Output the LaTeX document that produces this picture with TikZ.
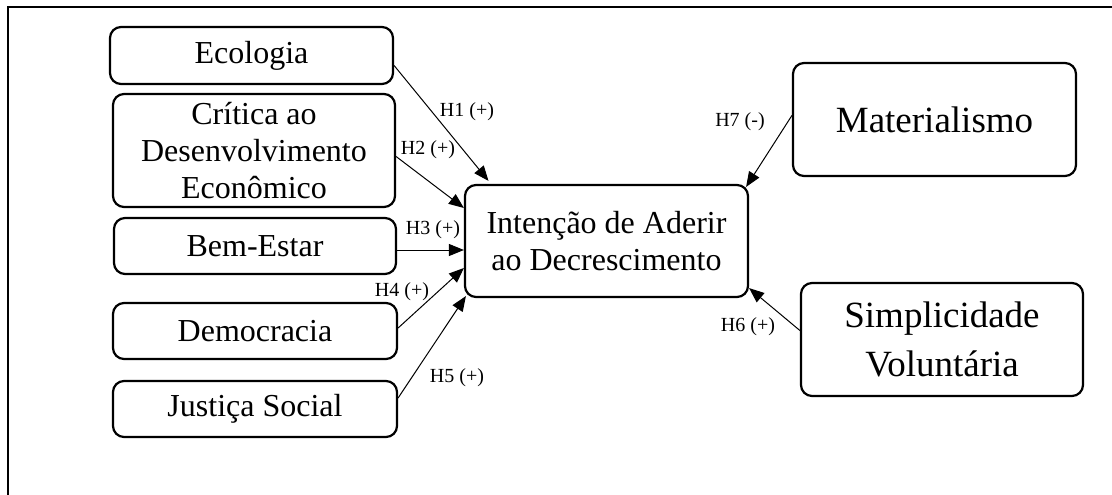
\documentclass[tikz,border=0pt]{standalone}
\usepackage{fontspec}
\setmainfont{Liberation Serif}
\usetikzlibrary{arrows.meta,calc}
\begin{document}
\begin{tikzpicture}[x=1pt,y=-1pt,
  box/.style={draw,line width=2.2pt,rounded corners=11pt,align=center,inner sep=0pt,
    font=\fontsize{32}{37}\selectfont},
  bigbox/.style={box,font=\fontsize{37}{49}\selectfont},
  link/.style={line width=1pt,-{Triangle[length=15pt,width=12pt]}},
  hyp/.style={font=\fontsize{20}{22}\selectfont,inner sep=0pt}]
\useasboundingbox (0,0) rectangle (1112,495);

% partial frame (top and left edges)
\draw[line width=2.6pt] (1112,7) -- (8,7) -- (8,495);

% antecedents
\node[box,minimum width=283pt,minimum height=57pt] (ecol) at (251.5,55.5) {Ecologia};
\node[box,minimum width=282pt,minimum height=113pt] (crit) at (254,150.5)
  {Crítica ao\\Desenvolvimento\\Econômico};
\node[box,minimum width=282pt,minimum height=56pt] (bem) at (255,246) {Bem-Estar};
\node[box,minimum width=284pt,minimum height=56pt] (demo) at (255,331) {Democracia};
\node[box,minimum width=284pt,minimum height=56pt] (just) at (255,409) {Justiça Social};

% outcome
\node[box,minimum width=283pt,minimum height=112pt] (cent) at (606.5,241)
  {Intenção de Aderir\\ao Decrescimento};

% right-hand constructs
\node[bigbox,minimum width=283pt,minimum height=113pt] (mat) at (934.5,119.5) {Materialismo};
\node[bigbox,minimum width=282pt,minimum height=113pt] (simp) at (942,339.5)
  {Simplicidade\\Voluntária};

% hypothesised paths
\draw[link] ([yshift=-10pt]ecol.east) -- ([xshift=-118pt,yshift=3pt]cent.north);
\draw[link] ([yshift=-6pt]crit.east) -- ([yshift=33pt]cent.west);
\draw[link] ([yshift=-4pt]bem.east) -- ([yshift=-9pt]cent.west);
\draw[link] ([yshift=3pt]demo.east) -- ([yshift=-27pt]cent.west);
\draw[link] ([yshift=11pt]just.east) -- ([xshift=2pt,yshift=2pt]cent.south west);
\draw[link] ([yshift=4pt]mat.west) -- ([xshift=-3pt,yshift=-3pt]cent.north east);
\draw[link] ([yshift=9pt]simp.west) -- ([yshift=10pt]cent.south east);

% path labels
\node[hyp] (h1) at (467,112) {H1 (+)};
\node[hyp] (h2) at (428,150) {H2 (+)};
\node[hyp] (h3) at (433,230) {H3 (+)};
\node[hyp] (h4) at (402,292) {H4 (+)};
\node[hyp] (h5) at (457,378) {H5 (+)};
\node[hyp] (h7) at (740,122) {H7 (-)};
\node[hyp] (h6) at (748,327) {H6 (+)};
\end{tikzpicture}
\end{document}
